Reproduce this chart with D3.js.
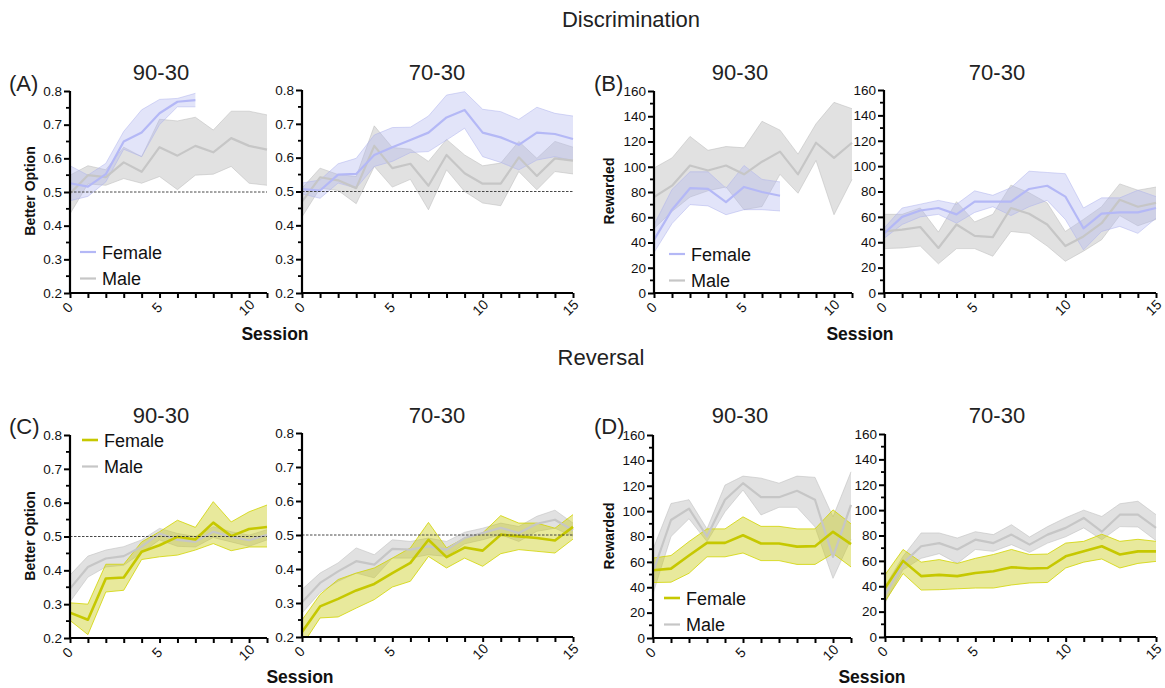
<!DOCTYPE html>
<html><head><meta charset="utf-8">
<script src="https://cdn.jsdelivr.net/npm/d3@7"></script>
<style>body{margin:0;background:#fff}svg{display:block}text{font-family:"Liberation Sans",Arial,sans-serif}</style>
</head><body><svg id="c" width="1165" height="688"></svg>
<script>
// ---------- DATA (session index = array position) ----------
// (A) Discrimination, Better Option
const discBO9030_F_mean=[0.526,0.516,0.553,0.650,0.677,0.734,0.768,0.773];
const discBO9030_F_lo  =[0.474,0.487,0.530,0.627,0.605,0.700,0.753,0.753];
const discBO9030_F_hi  =[0.578,0.550,0.585,0.680,0.744,0.775,0.778,0.793];
const discBO9030_M_mean=[0.495,0.550,0.544,0.588,0.560,0.633,0.608,0.637,0.618,0.660,0.637,0.626];
const discBO9030_M_lo  =[0.435,0.524,0.520,0.540,0.526,0.546,0.507,0.550,0.553,0.576,0.526,0.520];
const discBO9030_M_hi  =[0.550,0.578,0.566,0.633,0.605,0.716,0.711,0.722,0.684,0.740,0.740,0.729];
const discBO7030_F_mean=[0.507,0.503,0.550,0.552,0.608,0.631,0.652,0.674,0.719,0.741,0.674,0.660,0.638,0.674,0.670,0.655];
const discBO7030_F_lo  =[0.493,0.480,0.525,0.510,0.574,0.589,0.615,0.618,0.652,0.687,0.603,0.586,0.564,0.593,0.603,0.591];
const discBO7030_F_hi  =[0.525,0.534,0.582,0.598,0.667,0.689,0.690,0.723,0.785,0.795,0.743,0.736,0.713,0.749,0.731,0.723];
const discBO7030_M_mean=[0.470,0.542,0.533,0.510,0.635,0.569,0.582,0.517,0.608,0.554,0.523,0.523,0.601,0.546,0.598,0.591];
const discBO7030_M_lo  =[0.425,0.510,0.503,0.464,0.574,0.513,0.536,0.446,0.564,0.500,0.466,0.458,0.559,0.505,0.559,0.552];
const discBO7030_M_hi  =[0.510,0.569,0.550,0.544,0.694,0.630,0.625,0.589,0.654,0.608,0.576,0.584,0.648,0.598,0.648,0.631];
// (B) Discrimination, Rewarded
const discRW9030_F_mean=[42,66,83,82.5,72,84,80,77];
const discRW9030_F_lo  =[32,55,70,69,62,66,66,65];
const discRW9030_F_hi  =[54,82,96,96,83,101,90,88];
const discRW9030_M_mean=[76,85,101,97,101,94,104,112,94,119,107,119];
const discRW9030_M_lo  =[51,64.6,76,81,84,66,68.5,94,79,105,62,90];
const discRW9030_M_hi  =[99,107,124,113,116,115,136,129,110,134,151,146];
const discRW7030_F_mean=[47,60,65,67,62,72,72,72,82,84.5,76,51,62.5,63.5,63.5,67];
const discRW7030_F_lo  =[43,54,60,62,55,63.5,68,61,68,73,58,34,48.5,52.5,47,59];
const discRW7030_F_hi  =[51,67,70,73,70,80.5,77,83,96,95,94,67,75,75,81,76];
const discRW7030_M_mean=[48.5,50,52,35.5,54,45,44,67,62.5,54,37,44.6,55,73.5,68,71];
const discRW7030_M_lo  =[35,35.5,37,23,35,35,29,48.5,47,37,25,33,42,61,53,58];
const discRW7030_M_hi  =[62,62,67,48,72,56,62,85,79,71,48.5,58,68,86,81,83.5];
// (C) Reversal, Better Option
const revBO9030_F_mean=[0.275,0.254,0.376,0.379,0.455,0.474,0.499,0.491,0.541,0.501,0.522,0.528];
const revBO9030_F_lo  =[0.252,0.210,0.336,0.341,0.432,0.440,0.445,0.460,0.479,0.458,0.469,0.469];
const revBO9030_F_hi  =[0.304,0.300,0.418,0.418,0.484,0.514,0.548,0.527,0.603,0.543,0.573,0.593];
const revBO9030_M_mean=[0.346,0.410,0.435,0.442,0.470,0.509,0.490,0.484,0.514,0.499,0.489,0.505];
const revBO9030_M_lo  =[0.307,0.380,0.410,0.415,0.452,0.490,0.471,0.469,0.497,0.484,0.471,0.490];
const revBO9030_M_hi  =[0.386,0.442,0.460,0.470,0.490,0.524,0.509,0.500,0.529,0.514,0.504,0.520];
const revBO7030_F_mean=[0.215,0.290,0.312,0.337,0.356,0.388,0.418,0.486,0.435,0.463,0.454,0.501,0.496,0.491,0.484,0.524];
const revBO7030_F_lo  =[0.175,0.256,0.259,0.285,0.310,0.347,0.364,0.437,0.403,0.432,0.408,0.445,0.457,0.452,0.447,0.488];
const revBO7030_F_hi  =[0.250,0.325,0.369,0.388,0.403,0.432,0.462,0.537,0.462,0.491,0.506,0.557,0.535,0.535,0.520,0.560];
const revBO7030_M_mean=[0.302,0.359,0.393,0.423,0.413,0.459,0.457,0.467,0.457,0.491,0.506,0.521,0.506,0.533,0.545,0.514];
const revBO7030_M_lo  =[0.270,0.331,0.364,0.388,0.374,0.432,0.432,0.442,0.437,0.474,0.486,0.501,0.481,0.511,0.520,0.496];
const revBO7030_M_hi  =[0.340,0.388,0.418,0.462,0.442,0.486,0.481,0.491,0.481,0.508,0.520,0.535,0.525,0.555,0.573,0.535];
// (D) Reversal, Rewarded
const revRW9030_F_mean=[53.4,54.7,65,75,75,81,74.5,74.5,72,72.4,83.7,74];
const revRW9030_F_lo  =[43.7,44,51,64,64,67,61,61,58,58,66.6,56];
const revRW9030_F_hi  =[63,65,76,86,86,95.5,88,88,86,86,101,90];
const revRW9030_M_mean=[52,93,102,80,109,122,111,111,116,109,64,105];
const revRW9030_M_lo  =[35,80,94,76,99.5,116.6,97,103,103,87.6,47,78];
const revRW9030_M_hi  =[70,106,109,86,120.5,127.6,126,122,127.6,126.6,95.5,131];
const revRW7030_F_mean=[38.6,60,48,49,48,50.4,51.8,55,54,54.4,63.6,67.5,71.5,65,67.5,67.5];
const revRW7030_F_lo  =[28,50,37,37.3,38,38.6,38.6,41,42.6,43,54.4,59,61.5,54.4,58,59.6];
const revRW7030_F_hi  =[49,69,59,61,58,62,65,69,65,65.4,74,75.4,81,75.4,77,75.4];
const revRW7030_M_mean=[33,58,71.5,74,69,76.7,74,80.7,72.8,80.7,86,93.8,83,96.4,96.4,86];
const revRW7030_M_lo  =[27,53,62,65.7,58,69,67.5,72.8,66.7,74,79,86,76.7,87,86.7,76];
const revRW7030_M_hi  =[40,63.6,82,82,78,83,80.7,88.5,78.8,87,94,100,95,105,107,96.4];

const xTickLabels=[0,5,10,15];
const legendLabels=["Female","Male"];
const sectionTitles=["Discrimination","Reversal"];
const panelTitles=["90-30","70-30"];
const panelLetters=["(A)","(B)","(C)","(D)"];

// ---------- DRAW ----------
const svg=d3.select("#c");
const pal={
  disc:{line:"#b4b8f6",fill:"rgba(180,184,238,0.38)",edge:"rgba(170,175,235,0.6)"},
  rev:{line:"#c6c800",fill:"rgba(200,202,20,0.42)",edge:"#d2d400"},
  male:{line:"#c6c6c6",fill:"rgba(175,175,175,0.38)",edge:"rgba(190,190,190,0.7)"}
};
const z=(m,l,h)=>m.map((v,i)=>({s:i,m:v,l:l[i],h:h[i]}));

const panels=[
 {x:[70,267],xd:11,y:[293,91],yd:[0.2,0.8],kind:"bo",fem:"disc",F:z(discBO9030_F_mean,discBO9030_F_lo,discBO9030_F_hi),M:z(discBO9030_M_mean,discBO9030_M_lo,discBO9030_M_hi)},
 {x:[302,573],xd:15,y:[293,90],yd:[0.2,0.8],kind:"bo",fem:"disc",F:z(discBO7030_F_mean,discBO7030_F_lo,discBO7030_F_hi),M:z(discBO7030_M_mean,discBO7030_M_lo,discBO7030_M_hi)},
 {x:[654,852],xd:11,y:[293,91],yd:[0,160],kind:"rw",fem:"disc",F:z(discRW9030_F_mean,discRW9030_F_lo,discRW9030_F_hi),M:z(discRW9030_M_mean,discRW9030_M_lo,discRW9030_M_hi)},
 {x:[884,1156],xd:15,y:[293,90],yd:[0,160],kind:"rw",fem:"disc",F:z(discRW7030_F_mean,discRW7030_F_lo,discRW7030_F_hi),M:z(discRW7030_M_mean,discRW7030_M_lo,discRW7030_M_hi)},
 {x:[70,267],xd:11,y:[638,435],yd:[0.2,0.8],kind:"bo",fem:"rev",F:z(revBO9030_F_mean,revBO9030_F_lo,revBO9030_F_hi),M:z(revBO9030_M_mean,revBO9030_M_lo,revBO9030_M_hi)},
 {x:[302,573],xd:15,y:[637,433],yd:[0.2,0.8],kind:"bo",fem:"rev",F:z(revBO7030_F_mean,revBO7030_F_lo,revBO7030_F_hi),M:z(revBO7030_M_mean,revBO7030_M_lo,revBO7030_M_hi)},
 {x:[653,851],xd:11,y:[638,435],yd:[0,160],kind:"rw",fem:"rev",F:z(revRW9030_F_mean,revRW9030_F_lo,revRW9030_F_hi),M:z(revRW9030_M_mean,revRW9030_M_lo,revRW9030_M_hi)},
 {x:[885,1156],xd:15,y:[637,434],yd:[0,160],kind:"rw",fem:"rev",F:z(revRW7030_F_mean,revRW7030_F_lo,revRW7030_F_hi),M:z(revRW7030_M_mean,revRW7030_M_lo,revRW7030_M_hi)}
];

panels.forEach((p,pi)=>{
  const x=d3.scaleLinear().domain([0,p.xd]).range(p.x);
  const y=d3.scaleLinear().domain(p.yd).range(p.y);
  const g=svg.append("g");
  const cid="clip"+pi;
  svg.append("clipPath").attr("id",cid).append("rect")
     .attr("x",p.x[0]).attr("y",p.y[1]).attr("width",p.x[1]-p.x[0]+2).attr("height",p.y[0]-p.y[1]);
  const plot=g.append("g").attr("clip-path",`url(#${cid})`);
  const area=d3.area().x(d=>x(d.s)).y0(d=>y(d.l)).y1(d=>y(d.h));
  const line=d3.line().x(d=>x(d.s)).y(d=>y(d.m));
  const lo=d3.line().x(d=>x(d.s)).y(d=>y(d.l));
  const hi=d3.line().x(d=>x(d.s)).y(d=>y(d.h));
  const series=[[p.M,pal.male],[p.F,pal[p.fem]]];
  series.forEach(([d,c])=>{
    plot.append("path").datum(d).attr("d",area).attr("fill",c.fill);
    plot.append("path").datum(d).attr("d",lo).attr("fill","none").attr("stroke",c.edge).attr("stroke-width",0.8);
    plot.append("path").datum(d).attr("d",hi).attr("fill","none").attr("stroke",c.edge).attr("stroke-width",0.8);
  });
  series.forEach(([d,c])=>{
    plot.append("path").datum(d).attr("d",line).attr("fill","none").attr("stroke",c.line)
       .attr("stroke-width",p.fem==="rev"&&c!==pal.male?2.6:2.2).attr("stroke-linejoin","round");
  });
  if(p.kind==="bo"){
    g.append("line").attr("x1",x(0)).attr("x2",x(p.xd)).attr("y1",y(0.5)).attr("y2",y(0.5))
     .attr("stroke","#333").attr("stroke-width",0.9).attr("stroke-dasharray","2.5,1.5");
  }
  // y axis
  const major=p.kind==="bo"?d3.range(0.2,0.8001,0.1):d3.range(0,160.1,20);
  const minor=p.kind==="bo"?d3.range(0.25,0.8,0.1):d3.range(10,160,20);
  const ya=d3.axisLeft(y).tickValues(major).tickSize(6).tickPadding(2)
     .tickFormat(p.kind==="bo"?d3.format(".1f"):d3.format("d"));
  const yg=g.append("g").attr("transform",`translate(${p.x[0]},0)`).call(ya);
  yg.select(".domain").attr("stroke","#000").attr("stroke-width",2.2).attr("d",`M0,${p.y[0]+1}V${p.y[1]}`);
  yg.selectAll(".tick line").attr("stroke-width",2);
  yg.selectAll("text").attr("font-size",13.5).attr("fill","#111");
  minor.forEach(v=>g.append("line").attr("x1",p.x[0]-4).attr("x2",p.x[0]).attr("y1",y(v)).attr("y2",y(v)).attr("stroke","#000").attr("stroke-width",1.8));
  // x axis
  const xa=d3.axisBottom(x).tickValues(d3.range(0,p.xd+0.01,1)).tickSize(5).tickFormat("");
  const xg=g.append("g").attr("transform",`translate(0,${p.y[0]})`).call(xa);
  xg.select(".domain").attr("stroke","#000").attr("stroke-width",2.2).attr("d",`M${p.x[0]-1},0H${p.x[1]}`);
  xg.selectAll(".tick line").attr("stroke-width",2);
  xTickLabels.filter(v=>v<=p.xd).forEach(v=>{
    g.append("text").attr("transform",`translate(${x(v)+1},${p.y[0]+18}) rotate(-45)`)
     .attr("text-anchor","middle").attr("font-size",14).attr("fill","#111").text(v);
  });
});

// titles
svg.append("text").attr("x",631).attr("y",27).attr("text-anchor","middle").attr("font-size",22).attr("fill","#222").text(sectionTitles[0]);
svg.append("text").attr("x",601).attr("y",365).attr("text-anchor","middle").attr("font-size",22).attr("fill","#222").text(sectionTitles[1]);
[[161,80],[437,80],[740,80],[997,80],[161,423],[437,423],[740,423],[997,423]].forEach((c,i)=>{
  svg.append("text").attr("x",c[0]).attr("y",c[1]).attr("text-anchor","middle").attr("font-size",22).attr("fill","#222").text(panelTitles[i%2]);
});
[[9,91],[594,91],[9,434],[594,434]].forEach((c,i)=>{
  svg.append("text").attr("x",c[0]).attr("y",c[1]).attr("font-size",22).attr("fill","#222").text(panelLetters[i]);
});
// axis titles
[[275,340],[860,340],[300,683],[872,683]].forEach(c=>{
  svg.append("text").attr("x",c[0]).attr("y",c[1]).attr("text-anchor","middle").attr("font-size",17.5).attr("font-weight","bold").attr("fill","#111").text("Session");
});
[[35,191,"Better Option"],[614,191,"Rewarded"],[35,536,"Better Option"],[614,536,"Rewarded"]].forEach(c=>{
  svg.append("text").attr("transform",`translate(${c[0]},${c[1]}) rotate(-90)`).attr("text-anchor","middle")
   .attr("font-size",14).attr("font-weight","bold").attr("fill","#111").text(c[2]);
});
// legends
[[80,252,"disc"],[669,254,"disc"],[82,440,"rev"],[664,598,"rev"]].forEach(c=>{
  [[pal[c[2]].line,0],[pal.male.line,1]].forEach(([col,k])=>{
    const yy=c[1]+k*26.5;
    svg.append("line").attr("x1",c[0]).attr("x2",c[0]+16).attr("y1",yy).attr("y2",yy).attr("stroke",col).attr("stroke-width",c[2]==="rev"&&k===0?2.6:2.2);
    svg.append("text").attr("x",c[0]+22).attr("y",yy+6.5).attr("font-size",18).attr("fill","#111").text(legendLabels[k]);
  });
});
</script></body></html>
